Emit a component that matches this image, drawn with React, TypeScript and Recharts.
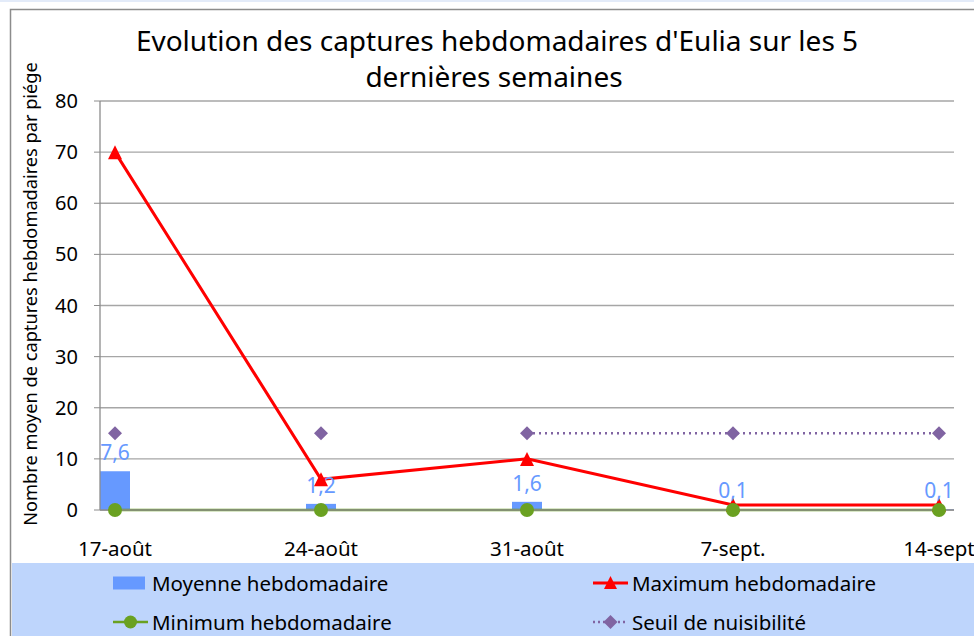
import React from 'react';
import {
  ComposedChart,
  Bar,
  Line,
  XAxis,
  YAxis,
  CartesianGrid,
  LabelList,
  Legend,
  Customized,
} from 'recharts';

const categories = ['17-août', '24-août', '31-août', '7-sept.', '14-sept'];
const moyenne = [7.6, 1.2, 1.6, 0.1, 0.1];
const maximum = [70, 6, 10, 1, 1];
const minimum = [0, 0, 0, 0, 0];
const seuil = [15, 15, 15, 15, 15];
const seuilLigne: (number | null)[] = [null, null, 15, 15, 15];
const yTicks = [0, 10, 20, 30, 40, 50, 60, 70, 80];
const xTicks = [0, 1, 2, 3, 4];

const titleLines = ["Evolution des captures hebdomadaires d'Eulia sur les 5", 'dernières semaines'];
const yLabel = 'Nombre moyen de captures hebdomadaires par piége';
const legendNames = {
  moyenne: 'Moyenne hebdomadaire',
  maximum: 'Maximum hebdomadaire',
  minimum: 'Minimum hebdomadaire',
  seuil: 'Seuil de nuisibilité',
};

const data = categories.map((c, i) => ({
  idx: i,
  cat: c,
  moyenne: moyenne[i],
  maximum: maximum[i],
  minimum: minimum[i],
  seuil: seuil[i],
  seuilLigne: seuilLigne[i],
}));

const FONT = "'Noto Sans', 'Open Sans', sans-serif";
const BAR = '#6699FF';
const RED = '#FF0000';
const GREEN = '#6AA121';
const PURPLE = '#8064A2';

const W = 974;
const H = 636;

const Triangle = (props: any) => {
  const { cx, cy } = props;
  if (cx == null || cy == null) return null;
  return <path d={`M${cx},${cy - 7} L${cx + 7},${cy + 7} L${cx - 7},${cy + 7} Z`} fill={RED} />;
};

const Diamond = (props: any) => {
  const { cx, cy, value } = props;
  if (cx == null || cy == null || value == null) return null;
  return <path d={`M${cx},${cy - 7} L${cx + 7},${cy} L${cx},${cy + 7} L${cx - 7},${cy} Z`} fill={PURPLE} />;
};

const Decor = () => (
  <g>
    <rect x={0} y={0} width={W} height={2} fill="#E3EBF9" />
    <path d={`M10.5,${H} L10.5,9.5 L${W},9.5`} fill="none" stroke="#8C8C8C" strokeWidth={1.5} />
    <text x={497} y={51} textAnchor="middle" fontSize={28} fill="#000" style={{ fontFamily: FONT }}>
      {titleLines[0]}
    </text>
    <text x={494} y={87} textAnchor="middle" fontSize={28} fill="#000" style={{ fontFamily: FONT }}>
      {titleLines[1]}
    </text>
    <text
      x={30}
      y={294}
      textAnchor="middle"
      dominantBaseline="central"
      fontSize={18.2}
      fill="#000"
      transform="rotate(-90 30 294)"
      style={{ fontFamily: FONT }}
    >
      {yLabel}
    </text>
  </g>
);

const LegendIcon = ({ kind }: { kind: string }) => {
  if (kind === 'moyenne') {
    return (
      <svg width={35} height={16} style={{ display: 'block' }}>
        <rect x={0} y={1.5} width={32} height={13} fill={BAR} />
      </svg>
    );
  }
  if (kind === 'maximum') {
    return (
      <svg width={35} height={16} style={{ display: 'block' }}>
        <line x1={0} y1={8} x2={35} y2={8} stroke={RED} strokeWidth={3} />
        <path d="M17.5,1 L24,14 L11,14 Z" fill={RED} />
      </svg>
    );
  }
  if (kind === 'minimum') {
    return (
      <svg width={35} height={16} style={{ display: 'block' }}>
        <line x1={0} y1={8} x2={35} y2={8} stroke={GREEN} strokeWidth={2.5} />
        <circle cx={17.5} cy={8} r={6.5} fill={GREEN} />
      </svg>
    );
  }
  return (
    <svg width={35} height={16} style={{ display: 'block' }}>
      <line x1={0} y1={8} x2={35} y2={8} stroke={PURPLE} strokeWidth={2.5} strokeDasharray="2 3" />
      <path d="M17.5,1 L24.5,8 L17.5,15 L10.5,8 Z" fill={PURPLE} />
    </svg>
  );
};

const LegendContent = () => {
  const items = [
    { kind: 'moyenne', left: 101, top: 12 },
    { kind: 'maximum', left: 581, top: 12 },
    { kind: 'minimum', left: 101, top: 51 },
    { kind: 'seuil', left: 581, top: 51 },
  ];
  return (
    <div style={{ position: 'relative', width: 962, height: 73, background: '#BED5FC', fontFamily: FONT }}>
      {items.map((it) => (
        <div
          key={it.kind}
          style={{
            position: 'absolute',
            left: it.left,
            top: it.top,
            display: 'flex',
            alignItems: 'center',
            height: 16,
            whiteSpace: 'nowrap',
          }}
        >
          <LegendIcon kind={it.kind} />
          <span style={{ marginLeft: 4, fontSize: 20.5, color: '#000', lineHeight: '16px' }}>
            {(legendNames as any)[it.kind]}
          </span>
        </div>
      ))}
    </div>
  );
};

const fmt = (v: any) => String(v).replace('.', ',');

export default function App() {
  return (
    <div style={{ position: 'absolute', left: 0, top: 0, width: W, height: H, background: '#fff', overflow: 'hidden' }}>
      <ComposedChart
        width={W}
        height={H}
        data={data}
        margin={{ top: 101, right: 20, bottom: 76, left: 40 }}
        style={{ fontFamily: FONT }}
      >
        <Customized component={Decor} />
        <CartesianGrid horizontal vertical={false} stroke="#A6A6A6" strokeWidth={1.3} />
        <XAxis
          dataKey="idx"
          type="number"
          domain={[-15 / 206, 4 + 15 / 206]}
          ticks={xTicks}
          interval={0}
          tickFormatter={(i: number) => categories[i] ?? ''}
          tickLine={false}
          tickSize={0}
          tickMargin={31}
          axisLine={{ stroke: '#8C8C8C', strokeWidth: 1.3 }}
          tick={{ fill: '#000', fontSize: 20.5 }}
          height={50}
          allowDataOverflow
        />
        <YAxis
          type="number"
          domain={[0, 80]}
          ticks={yTicks}
          interval={0}
          width={60}
          tickSize={6}
          tickMargin={16}
          tickLine={{ stroke: '#8C8C8C' }}
          axisLine={{ stroke: '#8C8C8C', strokeWidth: 1.3 }}
          tick={{ fill: '#000', fontSize: 20 }}
        />
        <Bar dataKey="moyenne" name={legendNames.moyenne} fill={BAR} barSize={30} isAnimationActive={false}>
          <LabelList dataKey="moyenne" position="top" offset={11} fill={BAR} fontSize={21} formatter={fmt} />
        </Bar>
        <Line
          dataKey="seuil"
          name={legendNames.seuil}
          stroke="none"
          dot={<Diamond />}
          activeDot={false}
          isAnimationActive={false}
          legendType="none"
        />
        <Line
          dataKey="seuilLigne"
          name="seuilLigne"
          stroke={PURPLE}
          strokeWidth={2.5}
          strokeDasharray="2 4"
          dot={false}
          activeDot={false}
          isAnimationActive={false}
          legendType="none"
        />
        <Line
          dataKey="maximum"
          name={legendNames.maximum}
          stroke={RED}
          strokeWidth={3}
          dot={<Triangle />}
          activeDot={false}
          isAnimationActive={false}
        />
        <Line
          dataKey="minimum"
          name={legendNames.minimum}
          stroke={GREEN}
          strokeWidth={2.5}
          dot={{ r: 7, fill: GREEN, stroke: GREEN, strokeWidth: 0 }}
          activeDot={false}
          isAnimationActive={false}
        />
        <Legend
          layout="horizontal"
          verticalAlign="middle"
          align="center"
          content={<LegendContent />}
          wrapperStyle={{ position: 'absolute', left: 12, top: 563, width: 962, height: 73 }}
        />
      </ComposedChart>
    </div>
  );
}
